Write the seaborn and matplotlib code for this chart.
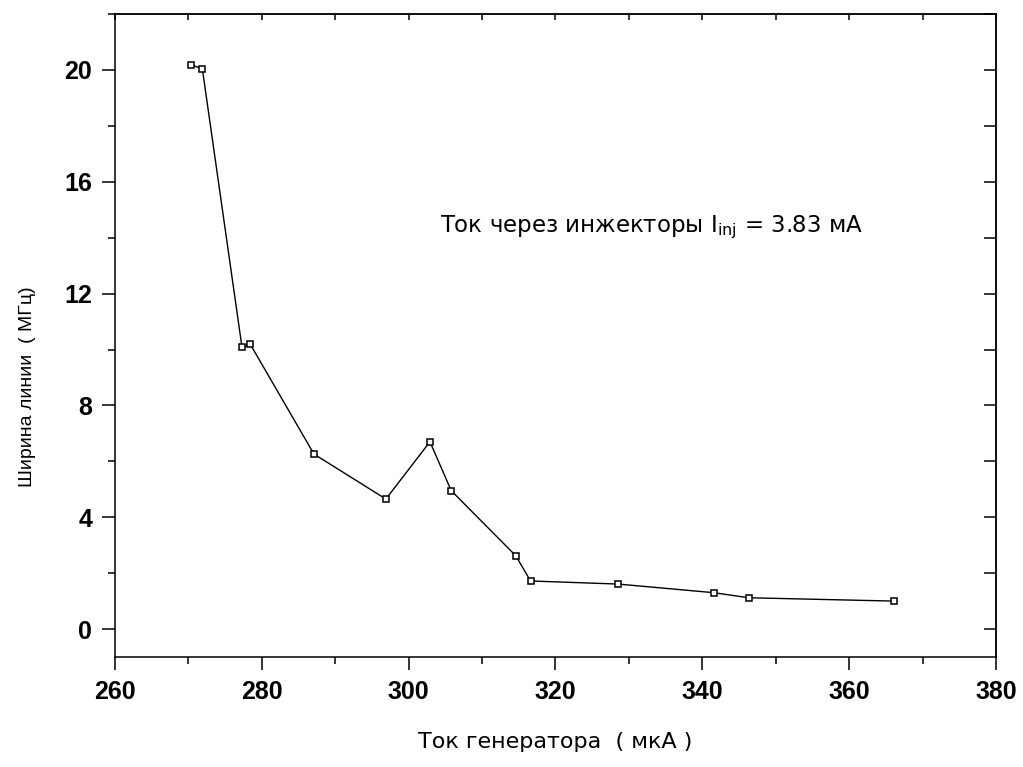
import numpy as np
import pandas as pd
import seaborn as sns
import matplotlib.pyplot as plt
from matplotlib.ticker import MultipleLocator

# generator current (uA) vs line width (MHz)
current = [270.4, 271.9, 277.3, 278.4, 287.1, 296.9, 302.9, 305.8,
           314.6, 316.6, 328.5, 341.6, 346.3, 366.1]
width = [20.18, 20.04, 10.08, 10.20, 6.26, 4.65, 6.70, 4.95,
         2.62, 1.72, 1.61, 1.30, 1.12, 1.00]

x_label = "Ток генератора  ( мкА )"
y_label = "Ширина линии  ( МГц)"
note = r"Ток через инжекторы $\mathregular{I_{inj}}$ = 3.83 мА"

dt = pd.DataFrame({"current": current, "width": width})

sns.set_style("white")
plt.rcParams["font.family"] = ["Liberation Sans", "DejaVu Sans"]
plt.rcParams["text.color"] = "black"
plt.rcParams["axes.labelcolor"] = "black"
plt.rcParams["xtick.color"] = "black"
plt.rcParams["ytick.color"] = "black"

fig = plt.figure(figsize=(10.23, 7.67), dpi=100)
ax = fig.add_axes([0.1124, 0.1434, 0.8612, 0.8383])

sns.lineplot(data=dt, x="current", y="width", ax=ax, color="black",
             linewidth=1.0, marker="s", markersize=5,
             markerfacecolor="white", markeredgecolor="black",
             markeredgewidth=1.1, sort=False)

ax.set_xlim(260, 380)
ax.set_ylim(-1, 22)

ax.xaxis.set_major_locator(MultipleLocator(20))
ax.xaxis.set_minor_locator(MultipleLocator(10))
ax.yaxis.set_major_locator(MultipleLocator(4))
ax.yaxis.set_minor_locator(MultipleLocator(2))

for s in ax.spines.values():
    s.set_visible(True)
    s.set_linewidth(1.1)
    s.set_color("black")

ax.tick_params(which="both", bottom=True, left=True, top=False, right=False)
ax.tick_params(which="major", direction="out", length=9.5, width=1.1,
               colors="black", pad=7, labelsize=18)
ax.tick_params(which="minor", direction="out", length=5, width=1.1,
               colors="black")
for lab in ax.get_xticklabels() + ax.get_yticklabels():
    lab.set_fontweight("bold")

# inward ticks on top and right
top = ax.secondary_xaxis("top")
top.xaxis.set_major_locator(MultipleLocator(10))
top.tick_params(top=True, direction="in", length=4, width=1.1,
                colors="black", labeltop=False)
top.spines["top"].set_linewidth(1.1)
right = ax.secondary_yaxis("right")
right.yaxis.set_major_locator(MultipleLocator(2))
right.tick_params(right=True, direction="in", length=9, width=1.1,
                  colors="black", labelright=False)
right.spines["right"].set_linewidth(1.1)

ax.set_xlabel(x_label, fontsize=16, family="DejaVu Sans", labelpad=20)
ax.set_ylabel(y_label, fontsize=14)
ax.yaxis.set_label_coords(-0.09, 0.42)

ax.text(304.3, 14.2, note, fontsize=16.5, family="DejaVu Sans",
        ha="left", va="baseline")

plt.savefig("out.png", dpi=100)
